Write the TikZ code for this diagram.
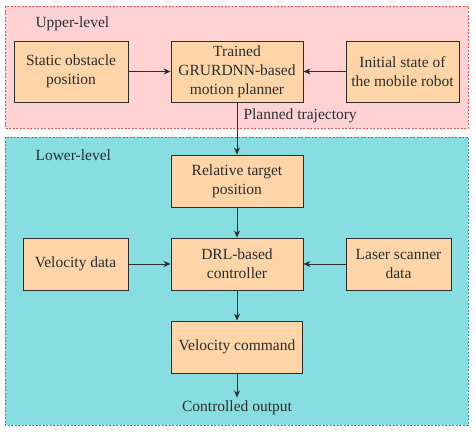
\documentclass[tikz,border=0pt]{standalone}
\usepackage{fontspec}
\setmainfont{Liberation Serif}
\usetikzlibrary{arrows.meta}
\definecolor{upfill}{RGB}{255,211,211}
\definecolor{upline}{RGB}{230,80,80}
\definecolor{lowfill}{RGB}{136,221,224}
\definecolor{lowline}{RGB}{20,160,170}
\definecolor{boxfill}{RGB}{253,213,168}
\definecolor{ink}{RGB}{45,45,45}
\tikzset{
  region/.style={line width=0.8pt, dash pattern=on 2pt off 1.5pt},
  blk/.style={draw=ink, fill=boxfill, line width=0.9pt, align=center, inner sep=0pt,
    font=\fontsize{15.5}{19}\selectfont, text=ink},
  lbl/.style={font=\fontsize{15.5}{19}\selectfont, text=ink},
  arr/.style={draw=ink, line width=0.9pt, -{Stealth[length=7pt,width=6pt]}}
}
\begin{document}
\begin{tikzpicture}[x=1pt,y=-1pt]
\useasboundingbox (0,0) rectangle (476,431);
\fill[white] (0,0) rectangle (476,431);
\draw[region, draw=upline, fill=upfill] (5,6) rectangle (468,128);
\draw[region, draw=lowline, fill=lowfill] (5,137) rectangle (468,425);
\node[lbl, anchor=west] (up) at (32,24) {Upper-level};
\node[lbl, anchor=west] (low) at (32,155) {Lower-level};
\node[blk, minimum width=114pt, minimum height=61pt] (static) at (71,71.5) {Static obstacle\\position};
\node[blk, minimum width=132pt, minimum height=61pt] (trained) at (237,71.5) {Trained\\GRURDNN-based\\motion planner};
\node[blk, minimum width=113pt, minimum height=61pt] (init) at (402.5,71.5) {Initial state of\\the mobile robot};
\node[lbl, anchor=west] (plan) at (240,116) {Planned trajectory};
\node[blk, minimum width=132pt, minimum height=52pt] (rel) at (237,181) {Relative target\\position};
\node[blk, minimum width=105pt, minimum height=52pt] (vel) at (75.5,264) {Velocity data};
\node[blk, minimum width=132pt, minimum height=52pt] (drl) at (237,264) {DRL-based\\controller};
\node[blk, minimum width=105pt, minimum height=52pt] (laser) at (398.5,264) {Laser scanner\\data};
\node[blk, minimum width=131pt, minimum height=52pt] (vcmd) at (237,347) {Velocity command};
\node[lbl] (ctrl) at (237,408) {Controlled output};
\draw[arr] (static) -- (trained);
\draw[arr] (init) -- (trained);
\draw[arr] (trained) -- (rel);
\draw[arr] (rel) -- (drl);
\draw[arr] (vel) -- (drl);
\draw[arr] (laser) -- (drl);
\draw[arr] (drl) -- (vcmd);
\draw[arr] (vcmd) -- (ctrl);
\end{tikzpicture}
\end{document}
